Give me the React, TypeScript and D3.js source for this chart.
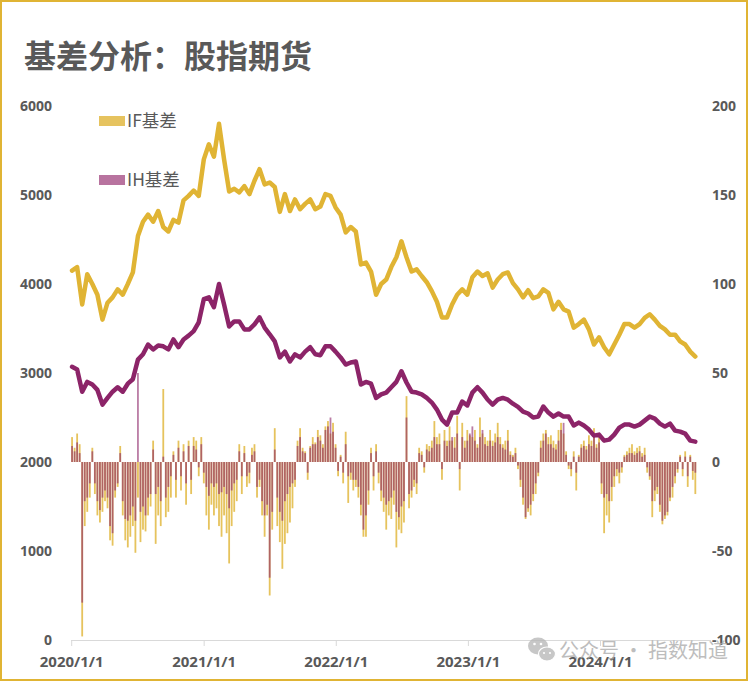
import React from "react";
import * as d3 from "d3";

const TITLE = "基差分析：股指期货";
const LEGEND_LABELS = ["IF基差", "IH基差"];
const X_TICKS = ["2020/1/1", "2021/1/1", "2022/1/1", "2023/1/1", "2024/1/1"];
const LEFT_TICKS = [0, 1000, 2000, 3000, 4000, 5000, 6000];
const RIGHT_TICKS = [-100, -50, 0, 50, 100, 150, 200];

// index levels, one value every two weeks from 2020-01-02
const IF_PRICE = [
  4150, 4190, 3770, 4110, 4000, 3880, 3600, 3790, 3850, 3940,
  3880, 4000, 4130, 4540, 4700, 4780, 4700, 4820, 4640, 4590,
  4720, 4690, 4940, 4990, 5050, 4990, 5400, 5570, 5430, 5800,
  5400, 5040, 5070, 5030, 5100, 5010, 5160, 5290, 5120, 5140,
  5090, 4810, 5010, 4820, 4950, 4840, 4900, 4950, 4840, 4870,
  5010, 4990, 4860, 4780, 4580, 4640, 4590, 4220, 4240, 4140,
  3880, 4000, 4050, 4190, 4300, 4480, 4300, 4140, 4165, 4090,
  4020, 3920, 3800, 3625, 3625, 3770, 3880, 3940, 3880, 4075,
  4140, 4090, 4120, 3960, 4050, 4110, 4130, 4010, 3940, 3850,
  3930, 3840, 3860, 3940, 3900, 3715, 3800, 3715, 3690, 3510,
  3550, 3600, 3490, 3320, 3400, 3290, 3210, 3320, 3430, 3550,
  3550, 3510, 3550, 3620, 3660, 3600, 3530, 3490, 3430, 3430,
  3355, 3320, 3240, 3185,
];
const IH_PRICE = [
  3070, 3040, 2790, 2900, 2870, 2810, 2645, 2720, 2790, 2840,
  2790, 2880, 2930, 3150, 3210, 3320, 3265, 3310, 3300, 3265,
  3377, 3290, 3377, 3420, 3470, 3570, 3830, 3850, 3740, 4000,
  3770, 3523, 3580, 3580, 3490, 3490, 3546, 3625, 3510, 3435,
  3355, 3175, 3240, 3130, 3210, 3175, 3240, 3290, 3210, 3200,
  3300, 3300, 3240, 3175, 3095, 3118, 3130, 2870, 2900, 2880,
  2720, 2760, 2780, 2840, 2900, 3020, 2893, 2790, 2780, 2760,
  2720, 2668, 2589, 2477, 2420, 2555, 2555, 2680, 2635, 2780,
  2840, 2780, 2702, 2645, 2700, 2720, 2700, 2655, 2620, 2566,
  2545, 2500, 2510, 2623, 2555, 2510, 2545, 2510, 2510, 2410,
  2443, 2410, 2364, 2296, 2308, 2240, 2251, 2308, 2386, 2420,
  2420, 2398, 2420, 2465, 2510, 2488, 2431, 2398, 2431, 2353,
  2341, 2319, 2240, 2229,
];

// basis, one value every week from 2020-01-02
const IF_BASIS = [
  14, 8, 16, 10, -98, -36, -28, -20, 8, -18, -30, -34, -28,
  -22, -26, -44, -47, -20, -14, 9, -30, -44, -48, -42, -36,
  -51, -20, -45, -38, -39, -30, -25,
  12, -46, -30, -36, 41, -31, -28, -20,
  6, -20, 12, -16, 10, -24, 12, -18, 14, 12, -8, 14,
  -12, -30, -38, -24, -30, -26, -36, -42, -30, -40, -57, -36,
  -28, -22, 10, -18, 9, -14, -12, 8, 10, -20, -14, -30,
  -42, -30, -75, -38, 19, -36, -45, -60, -46, -40, -34, -26,
  -14, 12, 19, 8, 6, -10, 9, 14, 11, 18, 15, 10,
  20, 23, 16, 22, 10, -8, 4, -12, 17, -23, -10, -16,
  -14, -20, -30, -42, -42, -24, 8, -16, 10, -12, -22, -28,
  -38, -30, -32, -24, -48, -38, -40, -34, 37,
  -26, -20, -14, -18, 8, 6, -6, 10, 9, 12, 23, 14,
  16, -10, 18, 12, 20, 12, 14, 26, -16, 22, 12, 18,
  15, 14, 18, 10, 25, 16, 14, 12, 18, 12, 16, 22,
  14, 10, 12, 18, 6, 4, 8, -4, -14, -24, -32, -28,
  -30, -22, -18, -8, 12, 16, 18, 14, 15, 12, 10, 18,
  22, 16, 6, -4, -8, 6, -16, 4, 10, 12, 9, 15,
  12, 19, 10, 14, -18, -40, -30, -34, -22, -14, -8, -12,
  -6, 4, 6, 8, 10, 6, 8, 9, 5, 8, -6, -10,
  -31, -22, -18, -28, -35, -32, -30, -22, -20, -12, -6, 4,
  -8, 6, -14, 4, -10, -18,
];
const IH_BASIS = [
  9, 6, 11, 5, -79, -22, -20, -12, 6, -12, -22, -27, -20,
  -16, -20, -36, -40, -16, -12, 5, -22, -32, -33, -30, -25,
  -33, 50, -28, -25, -30, -20, -18,
  7, -18, -14, -22, 3, -20, -14, -8,
  4, -10, 8, -8, 6, -12, 9, -10, 9, 7, -3, 10,
  -6, -14, -19, -12, -14, -12, -18, -17, -14, -18, -26, -16,
  -12, -10, 6, -8, 5, -8, -6, 4, 6, -14, -10, -22,
  -30, -24, -65, -28, 7, -20, -28, -33, -22, -18, -14, -12,
  -10, 9, 14, 6, 5, -6, 8, 10, 10, 14, 12, 8,
  18, 20, 25, 17, 8, -5, 3, -6, 10, -8, -6, -10,
  -10, -14, -24, -38, -30, -16, 5, -8, 6, -6, -16, -20,
  -24, -22, -20, -16, -28, -31, -25, -22, 25,
  -18, -16, -10, -12, 5, 4, -3, 7, 6, 8, 14, 10,
  10, -4, 12, 9, 12, 14, 8, 16, -4, 14, 8, 12,
  16, 20, 12, 8, 14, 18, 10, 9, 12, 9, 11, 14,
  10, 8, 7, 12, 4, 3, 5, -2, -10, -20, -31, -26,
  -24, -18, -12, -6, 8, 12, 16, 10, 10, 8, 7, 12,
  18, 22, 4, -2, -4, 3, -6, 3, 8, 9, 7, 10,
  9, 14, 8, 11, -12, -20, -18, -22, -14, -8, -4, -6,
  -3, 3, 4, 5, 5, 4, 5, 6, 3, 4, -3, -8,
  -22, -16, -14, -24, -33, -30, -28, -20, -14, -8, -4, 3,
  -4, 3, -8, 3, -5, -6,
];

const START = new Date(2020, 0, 2);
const priceDates = IF_PRICE.map((_, i) => d3.timeDay.offset(START, 14 * i));
const basisDates = IF_BASIS.map((_, i) => d3.timeDay.offset(START, 7 * i));

const W = 748;
const H = 681;
const GOLD = "#E0B434";
const PURPLE = "#8C2468";
const TXT = "#595959";
const NUM_FONT = "'Noto Sans', 'Open Sans', sans-serif";
const CJK_FONT = "'Noto Sans CJK SC', 'Noto Sans', sans-serif";

export default function App() {
  const x = d3
    .scaleTime()
    .domain([new Date(2020, 0, 1), new Date(2024, 0, 1)])
    .range([71.7, 600.5]);
  const yL = d3.scaleLinear().domain([0, 6000]).range([640, 106]);
  const yR = d3.scaleLinear().domain([-100, 200]).range([640, 106]);

  const lineL = d3
    .line<number>()
    .x((_, i) => x(priceDates[i]))
    .y((d) => yL(d))
    .curve(d3.curveLinear);

  const barW = 1.8;
  const xTickDates = X_TICKS.map((t) => {
    const [yy, mm, dd] = t.split("/").map(Number);
    return new Date(yy, mm - 1, dd);
  });

  return (
    <div style={{ position: "absolute", left: 0, top: 0 }}>
      <svg width={W} height={H} style={{ display: "block", background: "#fff" }}>
        <rect x={1} y={1} width={W - 2} height={H - 2} fill="#fff" stroke="#E0B434" strokeWidth={2} />
        <text x={24} y={68} fontFamily={CJK_FONT} fontWeight={700} fontSize={32} fill={TXT}>
          {TITLE}
        </text>

        {/* left axis labels */}
        {LEFT_TICKS.map((t) => (
          <text key={"l" + t} x={52} y={yL(t)} dy="0.35em" textAnchor="end" fontFamily={NUM_FONT} fontWeight={700} fontSize={14} fill={TXT}>
            {t}
          </text>
        ))}
        {/* right axis labels */}
        {RIGHT_TICKS.map((t) => (
          <text key={"r" + t} x={712} y={yR(t)} dy="0.35em" textAnchor="start" fontFamily={NUM_FONT} fontWeight={700} fontSize={14} fill={TXT}>
            {t}
          </text>
        ))}

        {/* x axis */}
        <line x1={71} x2={711} y1={640.5} y2={640.5} stroke="#D9D9D9" strokeWidth={1} />
        {xTickDates.map((d, i) => (
          <g key={"x" + i}>
            <line x1={x(d)} x2={x(d)} y1={640} y2={646} stroke="#D9D9D9" strokeWidth={1} />
            <text x={x(d)} y={667} textAnchor="middle" fontFamily={NUM_FONT} fontWeight={700} fontSize={15} fill={TXT}>
              {X_TICKS[i]}
            </text>
          </g>
        ))}

        {/* basis bars */}
        <g fill={GOLD} fillOpacity={0.8}>
          {IF_BASIS.map((v, i) => (
            <rect key={"bf" + i} x={x(basisDates[i]) - barW / 2} width={barW} y={Math.min(yR(v), yR(0))} height={Math.abs(yR(v) - yR(0))} />
          ))}
        </g>
        <g fill={PURPLE} fillOpacity={0.6}>
          {IH_BASIS.map((v, i) => (
            <rect key={"bh" + i} x={x(basisDates[i]) - barW / 2} width={barW} y={Math.min(yR(v), yR(0))} height={Math.abs(yR(v) - yR(0))} />
          ))}
        </g>

        {/* index lines */}
        <path d={lineL(IF_PRICE) || ""} fill="none" stroke={GOLD} strokeWidth={4.5} strokeLinejoin="round" strokeLinecap="round" />
        <path d={lineL(IH_PRICE) || ""} fill="none" stroke={PURPLE} strokeWidth={4.5} strokeLinejoin="round" strokeLinecap="round" />

        {/* legend */}
        <rect x={99} y={116} width={26} height={10} fill="#E6C35F" />
        <text x={127} y={121} dy="0.35em" fontFamily={CJK_FONT} fontSize={17.5} fill={TXT}>
          {LEGEND_LABELS[0]}
        </text>
        <rect x={99} y={175} width={26} height={10} fill="#B8739F" />
        <text x={127} y={180} dy="0.35em" fontFamily={CJK_FONT} fontSize={17.5} fill={TXT}>
          {LEGEND_LABELS[1]}
        </text>

        {/* watermark */}
        <g opacity={0.75}>
          <ellipse cx={538} cy={646} rx={10} ry={8.5} fill="#B5B5B5" />
          <ellipse cx={547} cy={654} rx={8.5} ry={7} fill="#B5B5B5" stroke="#fff" strokeWidth={1.2} />
          <circle cx={534.5} cy={644} r={1.3} fill="#fff" />
          <circle cx={541} cy={644} r={1.3} fill="#fff" />
          <circle cx={544} cy={653} r={1.1} fill="#fff" />
          <circle cx={550} cy={653} r={1.1} fill="#fff" />
          <text x={559} y={651} dy="0.35em" fontFamily={CJK_FONT} fontSize={20} fill="#A8A8A8">
            公众号 · 指数知道
          </text>
        </g>
      </svg>
    </div>
  );
}
